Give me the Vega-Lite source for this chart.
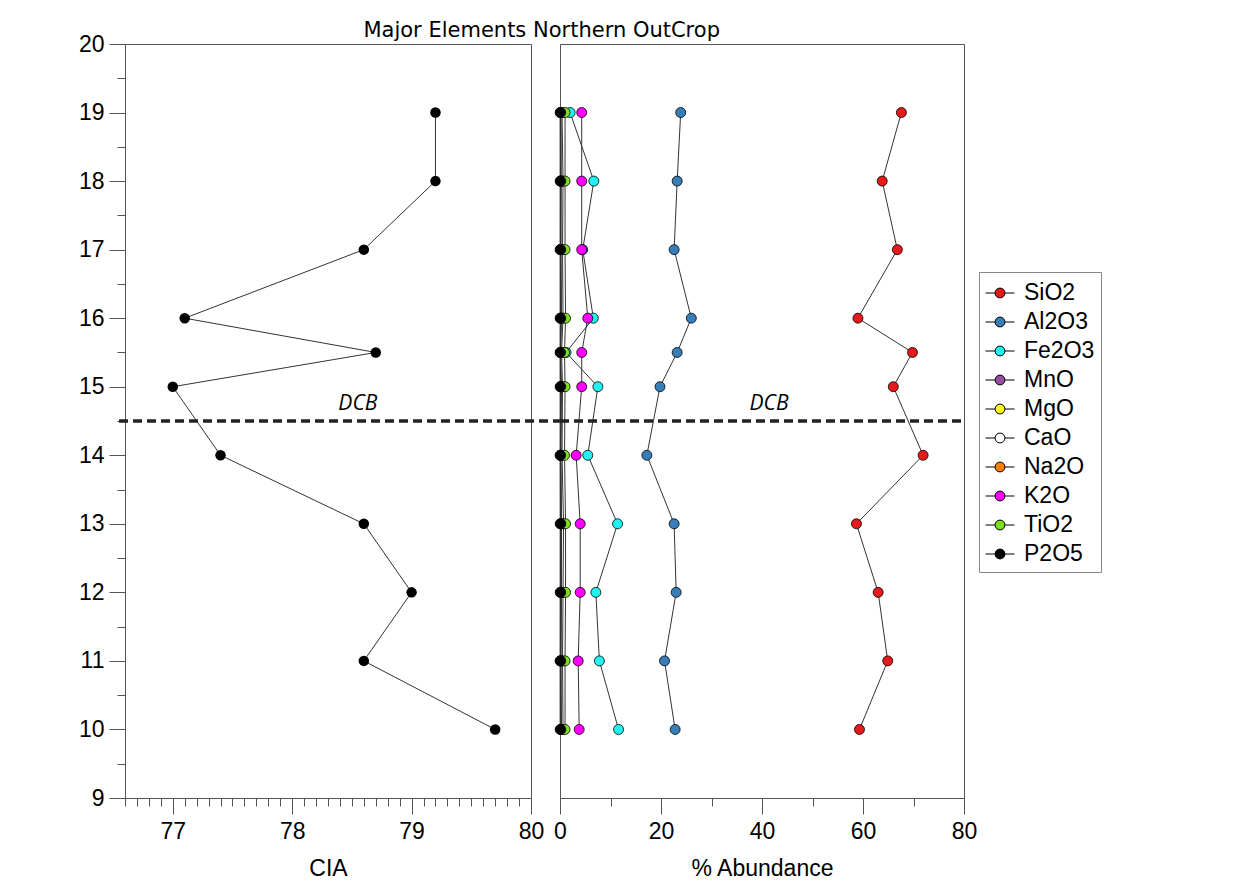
{
  "$schema": "https://vega.github.io/schema/vega-lite/v6.json",
  "padding": {"left": 77, "top": 19, "right": 0, "bottom": 0},
  "background": "white",
  "config": {
    "font": "Liberation Sans",
    "view": {"stroke": "#555", "strokeWidth": 1},
    "axis": {"grid": false, "domainColor": "#555", "tickColor": "#555", "labelColor": "black", "labelFontSize": 23, "titleFontSize": 23, "titleFontWeight": "normal", "titleColor": "black", "labelFont": "Liberation Sans", "titleFont": "Liberation Sans", "labelFlush": false, "labelOverlap": false},
    "concat": {"spacing": 29}
  },
  "title": {"text": "Major Elements Northern OutCrop", "font": "DejaVu Sans", "fontSize": 21, "fontWeight": "normal", "anchor": "middle", "baseline": "alphabetic", "offset": -25, "dx": -48, "color": "black"},
  "datasets": {
    "dcb": [{"depth": 14.5, "label": "DCB"}],
    "cia": [
      {"depth": 10, "CIA": 79.7}, {"depth": 11, "CIA": 78.6}, {"depth": 12, "CIA": 79.0}, {"depth": 13, "CIA": 78.6},
      {"depth": 14, "CIA": 77.4}, {"depth": 15, "CIA": 77.0}, {"depth": 15.5, "CIA": 78.7}, {"depth": 16, "CIA": 77.1},
      {"depth": 17, "CIA": 78.6}, {"depth": 18, "CIA": 79.2}, {"depth": 19, "CIA": 79.2}
    ],
    "oxides": [
      {"oxide": "SiO2", "depth": 10, "value": 59.3}, {"oxide": "SiO2", "depth": 11, "value": 64.9}, {"oxide": "SiO2", "depth": 12, "value": 63.0}, {"oxide": "SiO2", "depth": 13, "value": 58.7}, {"oxide": "SiO2", "depth": 14, "value": 71.9}, {"oxide": "SiO2", "depth": 15, "value": 66.0}, {"oxide": "SiO2", "depth": 15.5, "value": 69.8}, {"oxide": "SiO2", "depth": 16, "value": 59.0}, {"oxide": "SiO2", "depth": 17, "value": 66.8}, {"oxide": "SiO2", "depth": 18, "value": 63.8}, {"oxide": "SiO2", "depth": 19, "value": 67.6},
      {"oxide": "Al2O3", "depth": 10, "value": 22.8}, {"oxide": "Al2O3", "depth": 11, "value": 20.7}, {"oxide": "Al2O3", "depth": 12, "value": 23.0}, {"oxide": "Al2O3", "depth": 13, "value": 22.6}, {"oxide": "Al2O3", "depth": 14, "value": 17.2}, {"oxide": "Al2O3", "depth": 15, "value": 19.8}, {"oxide": "Al2O3", "depth": 15.5, "value": 23.2}, {"oxide": "Al2O3", "depth": 16, "value": 26.0}, {"oxide": "Al2O3", "depth": 17, "value": 22.6}, {"oxide": "Al2O3", "depth": 18, "value": 23.2}, {"oxide": "Al2O3", "depth": 19, "value": 23.9},
      {"oxide": "Fe2O3", "depth": 10, "value": 11.6}, {"oxide": "Fe2O3", "depth": 11, "value": 7.8}, {"oxide": "Fe2O3", "depth": 12, "value": 7.1}, {"oxide": "Fe2O3", "depth": 13, "value": 11.4}, {"oxide": "Fe2O3", "depth": 14, "value": 5.5}, {"oxide": "Fe2O3", "depth": 15, "value": 7.5}, {"oxide": "Fe2O3", "depth": 15.5, "value": 1.2}, {"oxide": "Fe2O3", "depth": 16, "value": 6.6}, {"oxide": "Fe2O3", "depth": 17, "value": 4.5}, {"oxide": "Fe2O3", "depth": 18, "value": 6.7}, {"oxide": "Fe2O3", "depth": 19, "value": 2.0},
      {"oxide": "MnO", "depth": 10, "value": 0.03}, {"oxide": "MnO", "depth": 11, "value": 0.02}, {"oxide": "MnO", "depth": 12, "value": 0.03}, {"oxide": "MnO", "depth": 13, "value": 0.04}, {"oxide": "MnO", "depth": 14, "value": 0.02}, {"oxide": "MnO", "depth": 15, "value": 0.03}, {"oxide": "MnO", "depth": 15.5, "value": 0.01}, {"oxide": "MnO", "depth": 16, "value": 0.03}, {"oxide": "MnO", "depth": 17, "value": 0.02}, {"oxide": "MnO", "depth": 18, "value": 0.03}, {"oxide": "MnO", "depth": 19, "value": 0.02},
      {"oxide": "MgO", "depth": 10, "value": 0.6}, {"oxide": "MgO", "depth": 11, "value": 0.5}, {"oxide": "MgO", "depth": 12, "value": 0.6}, {"oxide": "MgO", "depth": 13, "value": 0.7}, {"oxide": "MgO", "depth": 14, "value": 0.4}, {"oxide": "MgO", "depth": 15, "value": 0.5}, {"oxide": "MgO", "depth": 15.5, "value": 0.3}, {"oxide": "MgO", "depth": 16, "value": 0.6}, {"oxide": "MgO", "depth": 17, "value": 0.5}, {"oxide": "MgO", "depth": 18, "value": 0.6}, {"oxide": "MgO", "depth": 19, "value": 0.4},
      {"oxide": "CaO", "depth": 10, "value": 0.2}, {"oxide": "CaO", "depth": 11, "value": 0.1}, {"oxide": "CaO", "depth": 12, "value": 0.2}, {"oxide": "CaO", "depth": 13, "value": 0.2}, {"oxide": "CaO", "depth": 14, "value": 0.1}, {"oxide": "CaO", "depth": 15, "value": 0.1}, {"oxide": "CaO", "depth": 15.5, "value": 0.1}, {"oxide": "CaO", "depth": 16, "value": 0.2}, {"oxide": "CaO", "depth": 17, "value": 0.1}, {"oxide": "CaO", "depth": 18, "value": 0.2}, {"oxide": "CaO", "depth": 19, "value": 0.1},
      {"oxide": "Na2O", "depth": 10, "value": 0.3}, {"oxide": "Na2O", "depth": 11, "value": 0.2}, {"oxide": "Na2O", "depth": 12, "value": 0.3}, {"oxide": "Na2O", "depth": 13, "value": 0.3}, {"oxide": "Na2O", "depth": 14, "value": 0.2}, {"oxide": "Na2O", "depth": 15, "value": 0.3}, {"oxide": "Na2O", "depth": 15.5, "value": 0.1}, {"oxide": "Na2O", "depth": 16, "value": 0.3}, {"oxide": "Na2O", "depth": 17, "value": 0.2}, {"oxide": "Na2O", "depth": 18, "value": 0.2}, {"oxide": "Na2O", "depth": 19, "value": 0.2},
      {"oxide": "K2O", "depth": 10, "value": 3.8}, {"oxide": "K2O", "depth": 11, "value": 3.6}, {"oxide": "K2O", "depth": 12, "value": 4.0}, {"oxide": "K2O", "depth": 13, "value": 4.0}, {"oxide": "K2O", "depth": 14, "value": 3.2}, {"oxide": "K2O", "depth": 15, "value": 4.3}, {"oxide": "K2O", "depth": 15.5, "value": 4.3}, {"oxide": "K2O", "depth": 16, "value": 5.5}, {"oxide": "K2O", "depth": 17, "value": 4.3}, {"oxide": "K2O", "depth": 18, "value": 4.3}, {"oxide": "K2O", "depth": 19, "value": 4.3},
      {"oxide": "TiO2", "depth": 10, "value": 1.0}, {"oxide": "TiO2", "depth": 11, "value": 1.0}, {"oxide": "TiO2", "depth": 12, "value": 1.1}, {"oxide": "TiO2", "depth": 13, "value": 1.1}, {"oxide": "TiO2", "depth": 14, "value": 0.9}, {"oxide": "TiO2", "depth": 15, "value": 1.0}, {"oxide": "TiO2", "depth": 15.5, "value": 0.9}, {"oxide": "TiO2", "depth": 16, "value": 1.1}, {"oxide": "TiO2", "depth": 17, "value": 1.0}, {"oxide": "TiO2", "depth": 18, "value": 1.0}, {"oxide": "TiO2", "depth": 19, "value": 1.0},
      {"oxide": "P2O5", "depth": 10, "value": 0.15}, {"oxide": "P2O5", "depth": 11, "value": 0.14}, {"oxide": "P2O5", "depth": 12, "value": 0.15}, {"oxide": "P2O5", "depth": 13, "value": 0.16}, {"oxide": "P2O5", "depth": 14, "value": 0.12}, {"oxide": "P2O5", "depth": 15, "value": 0.14}, {"oxide": "P2O5", "depth": 15.5, "value": 0.1}, {"oxide": "P2O5", "depth": 16, "value": 0.15}, {"oxide": "P2O5", "depth": 17, "value": 0.14}, {"oxide": "P2O5", "depth": 18, "value": 0.15}, {"oxide": "P2O5", "depth": 19, "value": 0.13}
    ]
  },
  "bounds": "flush",
  "hconcat": [
    {
      "width": 406,
      "height": 754,
      "layer": [
        {
          "data": {"name": "cia"},
          "mark": {"type": "line", "color": "#333", "strokeWidth": 1},
          "encoding": {
            "x": {"field": "CIA", "type": "quantitative", "scale": {"domain": [76.6, 80], "nice": false, "zero": false},
              "axis": {"title": "CIA", "values": [76.6, 76.7, 76.8, 76.9, 77, 77.1, 77.2, 77.3, 77.4, 77.5, 77.6, 77.7, 77.8, 77.9, 78, 78.1, 78.2, 78.3, 78.4, 78.5, 78.6, 78.7, 78.8, 78.9, 79, 79.1, 79.2, 79.3, 79.4, 79.5, 79.6, 79.7, 79.8, 79.9, 80],
                "tickSize": {"condition": {"test": "abs(datum.value - round(datum.value)) < 0.001", "value": 16}, "value": 8},
                "labelExpr": "abs(datum.value - round(datum.value)) < 0.001 ? format(datum.value, 'd') : ''",
                "labelPadding": 6, "titlePadding": 14}},
            "y": {"field": "depth", "type": "quantitative", "scale": {"domain": [9, 20], "nice": false, "zero": false},
              "axis": {"title": null, "values": [9, 9.5, 10, 10.5, 11, 11.5, 12, 12.5, 13, 13.5, 14, 14.5, 15, 15.5, 16, 16.5, 17, 17.5, 18, 18.5, 19, 19.5, 20],
                "tickSize": {"condition": {"test": "datum.value % 1 === 0", "value": 16}, "value": 8},
                "labelExpr": "datum.value % 1 === 0 ? format(datum.value, 'd') : ''",
                "labelPadding": 5}},
            "order": {"field": "depth", "type": "quantitative"}
          }
        },
        {
          "data": {"name": "cia"},
          "mark": {"type": "point", "filled": true, "color": "black", "size": 110, "opacity": 1},
          "encoding": {
            "x": {"field": "CIA", "type": "quantitative",
              "axis": {"title": "CIA", "values": [76.6, 76.7, 76.8, 76.9, 77, 77.1, 77.2, 77.3, 77.4, 77.5, 77.6, 77.7, 77.8, 77.9, 78, 78.1, 78.2, 78.3, 78.4, 78.5, 78.6, 78.7, 78.8, 78.9, 79, 79.1, 79.2, 79.3, 79.4, 79.5, 79.6, 79.7, 79.8, 79.9, 80],
                "tickSize": {"condition": {"test": "abs(datum.value - round(datum.value)) < 0.001", "value": 16}, "value": 8},
                "labelExpr": "abs(datum.value - round(datum.value)) < 0.001 ? format(datum.value, 'd') : ''",
                "labelPadding": 6, "titlePadding": 14}},
            "y": {"field": "depth", "type": "quantitative",
              "axis": {"title": null, "values": [9, 9.5, 10, 10.5, 11, 11.5, 12, 12.5, 13, 13.5, 14, 14.5, 15, 15.5, 16, 16.5, 17, 17.5, 18, 18.5, 19, 19.5, 20],
                "tickSize": {"condition": {"test": "datum.value % 1 === 0", "value": 16}, "value": 8},
                "labelExpr": "datum.value % 1 === 0 ? format(datum.value, 'd') : ''",
                "labelPadding": 5}}
          }
        },
        {
          "data": {"name": "dcb"},
          "mark": {"type": "rule", "color": "#222", "strokeWidth": 3.5, "strokeDash": [9, 5]},
          "encoding": {
            "y": {"field": "depth", "type": "quantitative",
              "axis": {"title": null, "values": [9, 9.5, 10, 10.5, 11, 11.5, 12, 12.5, 13, 13.5, 14, 14.5, 15, 15.5, 16, 16.5, 17, 17.5, 18, 18.5, 19, 19.5, 20],
                "tickSize": {"condition": {"test": "datum.value % 1 === 0", "value": 16}, "value": 8},
                "labelExpr": "datum.value % 1 === 0 ? format(datum.value, 'd') : ''",
                "labelPadding": 5}},
            "x": {"datum": 76.55, "type": "quantitative",
              "axis": {"title": "CIA", "values": [76.6, 76.7, 76.8, 76.9, 77, 77.1, 77.2, 77.3, 77.4, 77.5, 77.6, 77.7, 77.8, 77.9, 78, 78.1, 78.2, 78.3, 78.4, 78.5, 78.6, 78.7, 78.8, 78.9, 79, 79.1, 79.2, 79.3, 79.4, 79.5, 79.6, 79.7, 79.8, 79.9, 80],
                "tickSize": {"condition": {"test": "abs(datum.value - round(datum.value)) < 0.001", "value": 16}, "value": 8},
                "labelExpr": "abs(datum.value - round(datum.value)) < 0.001 ? format(datum.value, 'd') : ''",
                "labelPadding": 6, "titlePadding": 14}},
            "x2": {"datum": 80.25}
          }
        },
        {
          "data": {"name": "dcb"},
          "mark": {"type": "text", "font": "Open Sans", "fontStyle": "italic", "fontSize": 21, "color": "black", "baseline": "alphabetic", "dy": -11},
          "encoding": {
            "y": {"field": "depth", "type": "quantitative",
              "axis": {"title": null, "values": [9, 9.5, 10, 10.5, 11, 11.5, 12, 12.5, 13, 13.5, 14, 14.5, 15, 15.5, 16, 16.5, 17, 17.5, 18, 18.5, 19, 19.5, 20],
                "tickSize": {"condition": {"test": "datum.value % 1 === 0", "value": 16}, "value": 8},
                "labelExpr": "datum.value % 1 === 0 ? format(datum.value, 'd') : ''",
                "labelPadding": 5}},
            "x": {"datum": 78.55, "type": "quantitative",
              "axis": {"title": "CIA", "values": [76.6, 76.7, 76.8, 76.9, 77, 77.1, 77.2, 77.3, 77.4, 77.5, 77.6, 77.7, 77.8, 77.9, 78, 78.1, 78.2, 78.3, 78.4, 78.5, 78.6, 78.7, 78.8, 78.9, 79, 79.1, 79.2, 79.3, 79.4, 79.5, 79.6, 79.7, 79.8, 79.9, 80],
                "tickSize": {"condition": {"test": "abs(datum.value - round(datum.value)) < 0.001", "value": 16}, "value": 8},
                "labelExpr": "abs(datum.value - round(datum.value)) < 0.001 ? format(datum.value, 'd') : ''",
                "labelPadding": 6, "titlePadding": 14}},
            "text": {"field": "label"}
          }
        }
      ]
    },
    {
      "width": 404,
      "height": 754,
      "layer": [
        {
          "data": {"name": "oxides"},
          "mark": {"type": "line", "color": "#333", "strokeWidth": 1},
          "encoding": {
            "x": {"field": "value", "type": "quantitative", "scale": {"domain": [0, 80], "nice": false},
              "axis": {"title": "% Abundance", "values": [0, 10, 20, 30, 40, 50, 60, 70, 80],
                "tickSize": {"condition": {"test": "datum.value % 20 === 0", "value": 16}, "value": 8},
                "labelExpr": "datum.value % 20 === 0 ? datum.label : ''",
                "labelPadding": 6, "titlePadding": 14}},
            "y": {"field": "depth", "type": "quantitative", "scale": {"domain": [9, 20], "nice": false, "zero": false}, "axis": null},
            "detail": {"field": "oxide"},
            "order": {"field": "depth", "type": "quantitative"}
          }
        },
        {
          "data": {"name": "oxides"},
          "mark": {"type": "point", "filled": true, "size": 100, "stroke": "black", "strokeWidth": 0.8, "opacity": 1},
          "encoding": {
            "x": {"field": "value", "type": "quantitative"},
            "y": {"field": "depth", "type": "quantitative"},
            "fill": {"field": "oxide", "type": "nominal",
              "scale": {"domain": ["SiO2", "Al2O3", "Fe2O3", "MnO", "MgO", "CaO", "Na2O", "K2O", "TiO2", "P2O5"],
                "range": ["#e41a1c", "#377eb8", "#22f2f2", "#984ea3", "#f8f81e", "#ffffff", "#ff7f00", "#ff00ff", "#7ee01b", "#000000"]},
              "legend": {"orient": "none", "legendX": 854, "legendY": 228, "title": null,
                "symbolType": "M-1,0L-0.34,0M0.34,0L1,0M-0.34,0A0.34,0.34,0,1,1,0.34,0A0.34,0.34,0,1,1,-0.34,0Z",
                "symbolSize": 841, "symbolStrokeColor": "black", "symbolStrokeWidth": 1, "symbolOpacity": 1,
                "labelFontSize": 23, "labelFont": "Liberation Sans", "labelColor": "black", "labelOffset": 9,
                "strokeColor": "#888", "fillColor": "white", "padding": 6, "rowPadding": 2}}
          }
        },
        {
          "data": {"name": "dcb"},
          "mark": {"type": "rule", "color": "#222", "strokeWidth": 3.5, "strokeDash": [9, 5]},
          "encoding": {
            "y": {"field": "depth", "type": "quantitative"},
            "x": {"datum": 0, "type": "quantitative"},
            "x2": {"datum": 80}
          }
        },
        {
          "data": {"name": "dcb"},
          "mark": {"type": "text", "font": "Open Sans", "fontStyle": "italic", "fontSize": 21, "color": "black", "baseline": "alphabetic", "dy": -11},
          "encoding": {
            "y": {"field": "depth", "type": "quantitative"},
            "x": {"datum": 41.4, "type": "quantitative"},
            "text": {"field": "label"}
          }
        }
      ]
    }
  ]
}
